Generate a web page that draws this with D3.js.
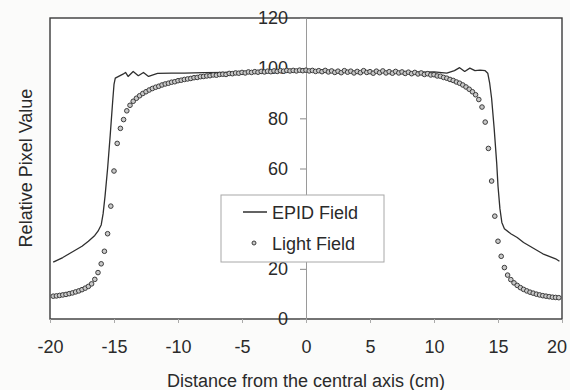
<!DOCTYPE html>
<html>
<head>
<meta charset="utf-8">
<script src="https://cdnjs.cloudflare.com/ajax/libs/d3/7.8.5/d3.min.js"></script>
<style>
    html, body { margin: 0; padding: 0; background: #fbfbfa; }
    svg { display: block; }
    text { font-family: "Liberation Sans", Arial, sans-serif; fill: #2a2a2a; }
</style>
</head>
<body>
<svg width="570" height="390"></svg>
<script>

    /**
     * EPID field profile (cm, relative value)
     */
    var epidX = [ -19.75, -19.0, -18.5, -18.0, -17.5, -17.0, -16.5, -16.25, -16.0, -15.85,
        -15.7, -15.5, -15.3, -15.1, -15.0, -14.9, -14.6, -14.3, -14.1, -13.9,
        -13.5, -13.1, -12.7, -12.3, -11.6, -10.5, -9.5, -8, -6, -4,
        -2, 0, 2, 4, 6, 8, 10, 11, 11.6, 12.0,
        12.4, 12.8, 13.2, 13.6, 14.0, 14.2, 14.35, 14.5, 14.7, 14.9,
        15.0, 15.15, 15.3, 15.5, 16.0, 16.5, 17.0, 17.5, 18.0, 18.5,
        19.0, 19.5, 19.8 ];

    var epidY = [ 22.7, 24.5, 26, 27.5, 29, 31, 33.3, 35, 37.5, 42,
        49, 60, 73, 87, 93.5, 96, 96.8, 97.6, 98.3, 96.7,
        98.7, 97, 98.3, 96.7, 97.9, 98, 98, 98.2, 98.3, 98.5,
        98.6, 98.7, 98.6, 98.5, 98.4, 98.3, 98.5, 98, 99, 100.2,
        98.7, 100, 99, 99.2, 99, 98, 94, 88, 76, 62,
        53, 44, 38.5, 36, 34, 32.5, 30.5, 29, 27.5, 26,
        25, 24, 23 ];

    /**
     * Light field profile, one point every 0.25 cm
     */
    var lightX = [ -19.75, -19.5, -19.25, -19, -18.75, -18.5, -18.25, -18, -17.75, -17.5,
        -17.25, -17, -16.75, -16.5, -16.25, -16, -15.75, -15.5, -15.25, -15,
        -14.75, -14.5, -14.25, -14, -13.75, -13.5, -13.25, -13, -12.75, -12.5,
        -12.25, -12, -11.75, -11.5, -11.25, -11, -10.75, -10.5, -10.25, -10,
        -9.75, -9.5, -9.25, -9, -8.75, -8.5, -8.25, -8, -7.75, -7.5,
        -7.25, -7, -6.75, -6.5, -6.25, -6, -5.75, -5.5, -5.25, -5,
        -4.75, -4.5, -4.25, -4, -3.75, -3.5, -3.25, -3, -2.75, -2.5,
        -2.25, -2, -1.75, -1.5, -1.25, -1, -0.75, -0.5, -0.25, 0,
        0.25, 0.5, 0.75, 1, 1.25, 1.5, 1.75, 2, 2.25, 2.5,
        2.75, 3, 3.25, 3.5, 3.75, 4, 4.25, 4.5, 4.75, 5,
        5.25, 5.5, 5.75, 6, 6.25, 6.5, 6.75, 7, 7.25, 7.5,
        7.75, 8, 8.25, 8.5, 8.75, 9, 9.25, 9.5, 9.75, 10,
        10.25, 10.5, 10.75, 11, 11.25, 11.5, 11.75, 12, 12.25, 12.5,
        12.75, 13, 13.25, 13.5, 13.75, 14, 14.25, 14.5, 14.75, 15,
        15.25, 15.5, 15.75, 16, 16.25, 16.5, 16.75, 17, 17.25, 17.5,
        17.75, 18, 18.25, 18.5, 18.75, 19, 19.25, 19.5, 19.75 ];

    var lightY = [ 9.1, 9.2, 9.4, 9.6, 9.8, 10.1, 10.4, 10.8, 11.2, 11.7,
        12.3, 13.0, 14.0, 15.8, 18.5, 22, 27, 34, 45, 59,
        70, 76, 79.5, 83, 85.2, 86.8, 88, 89, 89.9, 90.6,
        91.3, 91.9, 92.4, 92.8, 93.3, 93.7, 94.0, 94.4, 94.6, 95.0,
        95.2, 95.5, 95.7, 95.9, 96.2, 96.3, 96.6, 96.7, 96.9, 97.0,
        97.3, 97.2, 97.5, 97.6, 97.5, 97.9, 97.8, 98.1, 98.0, 98.3,
        98.1, 98.5, 98.3, 98.6, 98.4, 98.7, 98.5, 98.8, 98.6, 98.9,
        98.7, 99.0, 98.8, 99.1, 98.9, 99.1, 98.9, 99.2, 99.0, 99.2,
        98.9, 99.1, 98.7, 99.0, 98.6, 99.1, 98.5, 98.9, 98.3, 98.8,
        98.2, 99.0, 98.4, 98.8, 98.1, 98.7, 98.2, 99.0, 98.3, 98.6,
        98.0, 98.8, 98.2, 98.9, 98.1, 98.6, 98.0, 98.7, 98.1, 98.5,
        97.9, 98.4, 97.8, 98.3, 97.7, 98.1, 97.5, 97.8, 97.3, 97.4,
        96.9, 96.8, 96.3, 96.0, 95.5, 95.1, 94.5, 94.0, 93.3, 92.5,
        91.6, 90.6, 89.4, 87.5, 84.5, 78.5, 68, 55, 41, 31,
        25, 20.5, 17.5, 15.7, 14.4, 13.4, 12.5, 11.8, 11.2, 10.7,
        10.3, 9.9, 9.6, 9.3, 9.1, 8.9, 8.7, 8.6, 8.5 ];

    var xTicks = [ -20, -15, -10, -5, 0, 5, 10, 15, 20 ];
    var yTicks = [ 0, 20, 40, 60, 80, 100, 120 ];

    var seriesNames = [ 'EPID Field', 'Light Field' ];

    var svg = d3.select( 'svg' ),
        x = d3.scaleLinear().domain( [ -20, 20 ] ).range( [ 50, 562 ] ),
        y = d3.scaleLinear().domain( [ 0, 120 ] ).range( [ 319, 18 ] ),
        epid = d3.zip( epidX, epidY ),
        light = d3.zip( lightX, lightY ),
        plainLabel = function( d ) { return String( d ); },
        line;

    // plot frame
    svg.append( 'rect' )
        .attr( 'x', x( -20 ) )
        .attr( 'y', y( 120 ) )
        .attr( 'width', x( 20 ) - x( -20 ) )
        .attr( 'height', y( 0 ) - y( 120 ) )
        .attr( 'fill', '#ffffff' )
        .attr( 'stroke', '#3a3a3a' )
        .attr( 'stroke-width', 1.4 );

    // y axis sits on the centre line
    var yAxis = svg.append( 'g' )
        .attr( 'transform', 'translate(' + x( 0 ) + ',0)' )
        .call( d3.axisLeft( y ).tickValues( yTicks ).tickFormat( plainLabel )
            .tickSizeInner( 6 ).tickSizeOuter( 0 ).tickPadding( 12 ) );

    yAxis.select( '.domain' ).attr( 'stroke', '#9a9a9a' );
    yAxis.selectAll( '.tick line' ).attr( 'stroke', '#8a8a8a' );
    yAxis.selectAll( 'text' )
        .attr( 'font-size', 18 )
        .attr( 'fill', '#2a2a2a' );

    // the 40 label is hidden behind the legend box in the original
    yAxis.selectAll( '.tick' )
        .filter( function( d ) { return d === 40; } )
        .select( 'text' )
        .remove();

    var xAxis = svg.append( 'g' )
        .attr( 'transform', 'translate(0,' + y( 0 ) + ')' )
        .call( d3.axisBottom( x ).tickValues( xTicks ).tickFormat( plainLabel )
            .tickSizeInner( 4 ).tickSizeOuter( 0 ).tickPadding( 17 ) );

    xAxis.select( '.domain' ).remove();
    xAxis.selectAll( '.tick line' ).attr( 'stroke', '#aaaaaa' );
    xAxis.selectAll( 'text' )
        .attr( 'font-size', 18 )
        .attr( 'fill', '#2a2a2a' )
        .attr( 'dx', function( d ) { return d === 20 ? '-0.3em' : 0; } );

    // EPID line
    line = d3.line()
        .x( function( d ) { return x( d[ 0 ] ); } )
        .y( function( d ) { return y( d[ 1 ] ); } );

    svg.append( 'path' )
        .datum( epid )
        .attr( 'd', line )
        .attr( 'fill', 'none' )
        .attr( 'stroke', '#2f2f2f' )
        .attr( 'stroke-width', 1.3 )
        .attr( 'stroke-linejoin', 'round' );

    // light field points
    svg.append( 'g' )
        .selectAll( 'circle' )
        .data( light )
        .join( 'circle' )
        .attr( 'cx', function( d ) { return x( d[ 0 ] ); } )
        .attr( 'cy', function( d ) { return y( d[ 1 ] ); } )
        .attr( 'r', 2.3 )
        .attr( 'fill', '#c8c8c8' )
        .attr( 'stroke', '#3c3c3c' )
        .attr( 'stroke-width', 1 );

    // legend
    var legend = svg.append( 'g' );

    legend.append( 'rect' )
        .attr( 'x', 221 )
        .attr( 'y', 195 )
        .attr( 'width', 163 )
        .attr( 'height', 67 )
        .attr( 'fill', '#ffffff' )
        .attr( 'stroke', '#a8a8a8' )
        .attr( 'stroke-width', 1 );

    legend.append( 'line' )
        .attr( 'x1', 243 )
        .attr( 'x2', 267 )
        .attr( 'y1', 212 )
        .attr( 'y2', 212 )
        .attr( 'stroke', '#2f2f2f' )
        .attr( 'stroke-width', 1.5 );

    legend.append( 'circle' )
        .attr( 'cx', 254 )
        .attr( 'cy', 243 )
        .attr( 'r', 2 )
        .attr( 'fill', '#c8c8c8' )
        .attr( 'stroke', '#3c3c3c' )
        .attr( 'stroke-width', 1 );

    legend.selectAll( 'text' )
        .data( seriesNames )
        .join( 'text' )
        .attr( 'x', 272 )
        .attr( 'y', function( d, i ) { return 218.5 + i * 31; } )
        .attr( 'font-size', 18 )
        .text( function( d ) { return d; } );

    // axis titles
    svg.append( 'text' )
        .attr( 'text-anchor', 'middle' )
        .attr( 'x', x( 0 ) )
        .attr( 'y', 387 )
        .attr( 'font-size', 18 )
        .text( 'Distance from the central axis (cm)' );

    svg.append( 'text' )
        .attr( 'text-anchor', 'middle' )
        .attr( 'transform', 'translate(32,168) rotate(-90)' )
        .attr( 'font-size', 18 )
        .text( 'Relative Pixel Value' );

</script>
</body>
</html>
